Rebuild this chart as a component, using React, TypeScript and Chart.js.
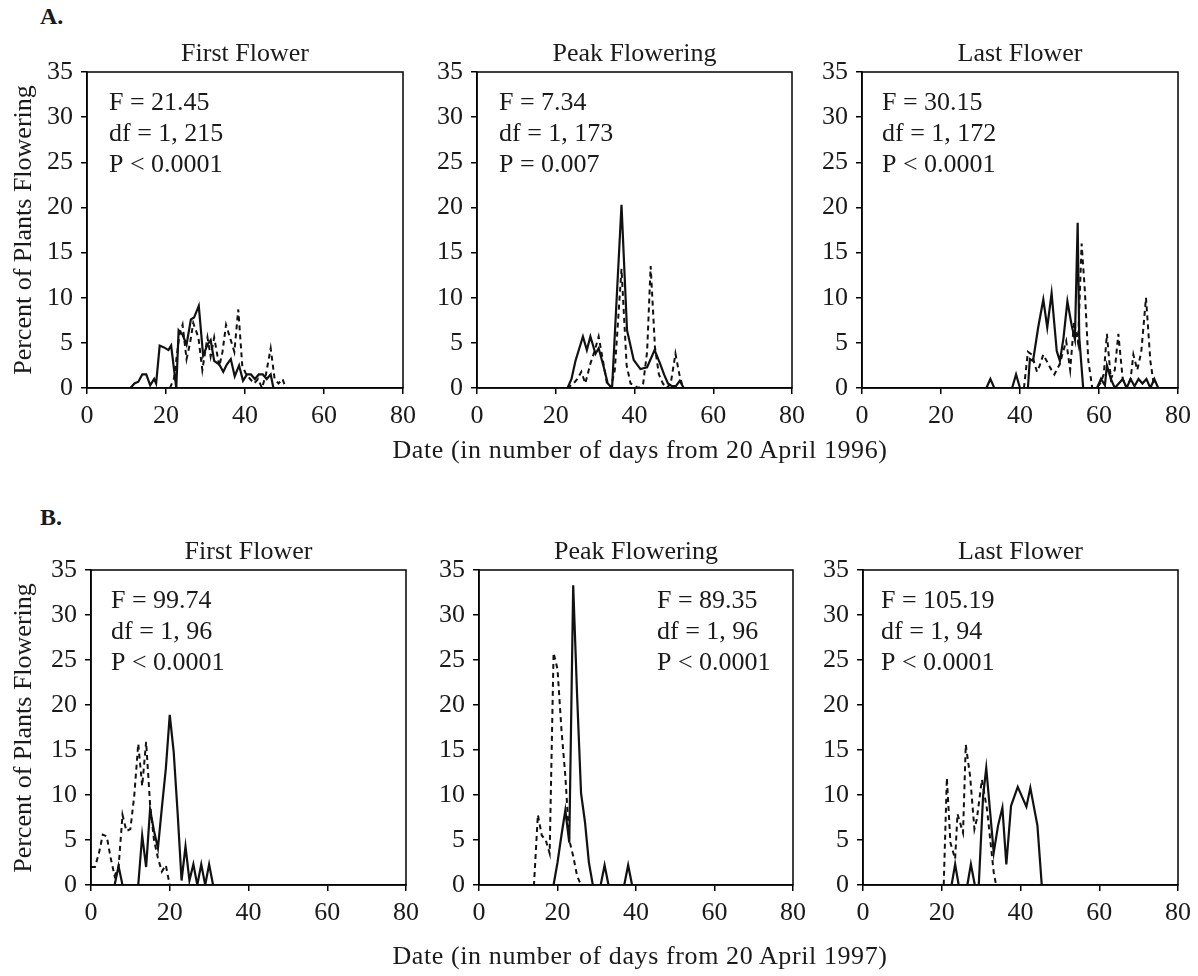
import { useEffect, useRef } from "react";
import { Chart, registerables } from "chart.js";
Chart.register(...registerables);

const FONT = "'Liberation Serif', 'DejaVu Serif', serif";
const TEXT = "#1a1a1a";

const X_TICKS = [0, 20, 40, 60, 80];
const Y_TICKS = [0, 5, 10, 15, 20, 25, 30, 35];

const TITLES = ["First Flower", "Peak Flowering", "Last Flower"];

// ---- 1996 (row A) ----
const a1SolidDays = [11, 12, 13, 14, 15, 16, 17, 17.5, 18.4, 19.5, 20.6, 21.3, 22.6, 23.2, 24.2, 25.2, 26.3, 27.1, 28.3, 29.4, 30.5, 31.3, 32.2, 33.5, 34.5, 35.4, 36.4, 37.4, 38.5, 39.5, 40.5, 41.5, 42.5, 43.5, 44.5, 45.5, 46.5, 47.2];
const a1SolidVals = [0, 0.5, 0.7, 1.5, 1.5, 0.3, 1.0, 0.5, 4.7, 4.5, 4.2, 4.7, 0, 6.4, 5.9, 4.8, 7.6, 7.8, 9.1, 3.6, 4.8, 5.3, 3.0, 2.6, 1.8, 2.6, 3.2, 1.3, 2.5, 0.8, 1.5, 1.5, 1.0, 1.5, 1.5, 1.0, 1.5, 0];
const a1DashDays = [21, 22, 23.4, 24.2, 25.2, 26.1, 26.9, 28.2, 29.2, 30.5, 31.3, 32.2, 33.5, 34.3, 35.2, 36.4, 37.3, 38.3, 39.3, 40.3, 41.3, 42.3, 43.3, 44.3, 45.3, 46.5, 47.5, 48.5, 49.5, 50.3];
const a1DashVals = [0, 1.0, 5.9, 7.0, 3.2, 5.0, 7.2, 5.6, 2.0, 5.6, 3.5, 5.6, 2.4, 4.0, 7.0, 5.3, 4.0, 8.7, 2.5, 1.5, 1.0, 0.5, 1.0, 0, 1.5, 4.4, 1.0, 0.5, 1.0, 0];
const a1Stats = ["F = 21.45", "df = 1, 215", "P < 0.0001"];

const a2SolidDays = [0, 23, 24, 25, 26.9, 27.9, 28.8, 30.1, 30.9, 32.2, 33.2, 34.3, 36.7, 38.1, 39.8, 41.5, 43.2, 45.1, 46.5, 47.5, 48.5, 49.5, 50.5, 51.5, 52.5];
const a2SolidVals = [0, 0, 1.0, 3.0, 5.7, 4.2, 5.7, 3.8, 4.4, 2.3, 0.5, 0, 20.3, 6.4, 3.1, 2.1, 2.3, 4.2, 2.7, 1.5, 0.5, 0.2, 0.2, 0.8, 0];
const a2DashDays = [0, 23, 24.5, 25.5, 26.5, 27.5, 28.8, 29.8, 30.9, 32.0, 33.0, 34.0, 35.0, 36.7, 38.0, 39.0, 41.0, 42.2, 43.2, 44.1, 45.2, 46.2, 47.2, 48.2, 49.2, 50.4, 51.4, 52.3];
const a2DashVals = [0, 0, 0.5, 1.0, 1.8, 0.5, 2.7, 4.0, 5.7, 3.0, 0.5, 0, 2.0, 13.2, 2.5, 0.5, 0, 0.5, 4.0, 13.5, 4.5, 1.5, 0.5, 0, 0.5, 3.8, 1.5, 0];
const a2Stats = ["F = 7.34", "df = 1, 173", "P = 0.007"];

const a3SolidDays = [30, 31.5, 32.5, 33.5, 38, 39, 40, 42, 42.5, 43.3, 44.6, 45.9, 46.9, 48.0, 49.3, 50.1, 51.0, 52.0, 53.1, 53.9, 54.6, 55.0, 56.0, 59.5, 60.5, 61.5, 62.0, 63.0, 64.0, 65.0, 66.0, 67.0, 68.0, 69.0, 70.0, 71.0, 72.0, 73.0, 74.0, 75.0];
const a3SolidVals = [0, 0, 1.0, 0, 0, 1.5, 0, 0, 3.2, 3.0, 6.7, 9.8, 6.7, 10.5, 4.1, 3.0, 5.5, 9.6, 6.9, 5.4, 18.3, 5.6, 0, 0, 1.0, 0.3, 2.5, 1.0, 0, 0.5, 1.0, 0, 1.0, 0.2, 1.0, 0.5, 1.0, 0, 1.0, 0];
const a3DashDays = [41, 42, 43, 44.3, 45.0, 45.9, 47.7, 48.7, 50.0, 51.7, 52.7, 53.7, 54.7, 55.6, 56.4, 57.3, 58.3, 59.3, 60.3, 61.2, 62.0, 63.0, 64.0, 64.9, 66.0, 67.0, 68.0, 68.7, 69.7, 70.7, 71.9, 73.0, 74.0];
const a3DashVals = [0, 4.0, 3.7, 1.8, 2.5, 3.7, 2.2, 1.5, 2.6, 5.2, 2.0, 7.4, 5.0, 16.0, 10.9, 3.0, 0, 0, 0.5, 1.5, 6.0, 1.0, 2.0, 6.0, 1.0, 0, 1.0, 3.7, 2.0, 4.0, 10.0, 3.0, 0];
const a3Stats = ["F = 30.15", "df = 1, 172", "P < 0.0001"];

// ---- 1997 (row B) ----
const b1SolidDays = [0, 6, 7, 8, 12, 13, 14, 15, 16, 17, 18, 19, 20, 21, 22, 23, 24, 25, 26, 27, 28, 29, 30, 31, 80];
const b1SolidVals = [0, 0, 2.1, 0, 0, 5.5, 2.0, 8.4, 6.0, 4.1, 8.6, 12.9, 18.9, 14.8, 8.0, 0.5, 4.3, 0.5, 2.3, 0, 2.3, 0, 2.3, 0, 0];
const b1DashDays = [0, 1, 2, 3, 4, 5, 6, 7, 8, 9, 10, 11, 12, 13, 14, 15, 16, 17, 18, 19, 20, 80];
const b1DashVals = [2.0, 2.0, 3.5, 5.6, 5.4, 3.0, 1.0, 2.0, 7.8, 6.0, 6.2, 10.0, 15.7, 11.0, 15.9, 9.0, 5.0, 3.0, 1.5, 2.2, 0, 0];
const b1Stats = ["F = 99.74", "df = 1, 96", "P < 0.0001"];

const b2SolidDays = [0, 19, 20, 21, 22, 23, 24, 25, 26, 27, 28, 29, 31, 32, 33, 37, 38, 39, 80];
const b2SolidVals = [0, 0, 2.5, 5.5, 8.3, 4.7, 33.3, 21.0, 10.2, 7.0, 2.5, 0, 0, 2.2, 0, 0, 2.2, 0, 0];
const b2DashDays = [0, 14, 15, 16, 17, 18, 19, 20, 21, 22, 23, 24, 25, 26, 44];
const b2DashVals = [0, 0, 7.8, 5.5, 5.0, 3.5, 25.8, 24.0, 17.3, 12.1, 5.0, 3.2, 1.0, 0, 0];
const b2Stats = ["F = 89.35", "df = 1, 96", "P < 0.0001"];

const b3SolidDays = [0, 22.5, 23.4, 24.3, 26.5, 27.4, 28.4, 29.4, 30.5, 31.3, 33.2, 34.3, 35.4, 36.4, 37.6, 39.3, 41.5, 42.5, 44.3, 45.4, 80];
const b3SolidVals = [0, 0, 2.3, 0, 0, 2.3, 0, 0, 9.9, 13.0, 3.6, 6.6, 8.6, 2.3, 8.8, 10.9, 8.7, 10.8, 6.6, 0, 0];
const b3DashDays = [0, 20.5, 21.3, 22.2, 23.4, 24.0, 25.4, 26.1, 27.2, 28.3, 28.9, 30.2, 31.5, 33.2, 33.8, 45];
const b3DashVals = [0, 0, 11.9, 4.7, 2.9, 7.9, 5.8, 15.6, 12.1, 6.2, 7.3, 11.7, 8.4, 1.4, 0, 0];
const b3Stats = ["F = 105.19", "df = 1, 94", "P < 0.0001"];

type Box = { left: number; top: number; w: number; h: number };

const PADL = 75, YAXW = 55, PADT = 50, PADR = 30, PADB = 60, XAXH = 48;

const framePlugin = {
  id: "frame",
  afterDraw(chart: any, _args: any, opts: any) {
    const { ctx, chartArea } = chart;
    const { left, top, right, bottom } = chartArea;
    ctx.save();
    ctx.strokeStyle = "#000";
    ctx.lineWidth = 1.5;
    ctx.strokeRect(left, top, right - left, bottom - top);
    ctx.fillStyle = TEXT;
    ctx.font = `26px ${FONT}`;
    ctx.textBaseline = "alphabetic";
    ctx.textAlign = "center";
    ctx.fillText(opts.title, (left + right) / 2, top - 11);
    ctx.textAlign = "left";
    (opts.stats as string[]).forEach((s, i) => ctx.fillText(s, left + opts.statsDx, top + 38 + i * 31));
    ctx.restore();
  },
};

function pts(days: number[], vals: number[]) {
  return days.map((d, i) => ({ x: d, y: vals[i] }));
}

function Panel(props: {
  box: Box; title: string; stats: string[]; statsDx: number;
  sd: number[]; sv: number[]; dd: number[]; dv: number[];
}) {
  const ref = useRef<HTMLCanvasElement>(null);
  const { box } = props;
  const cw = box.w + PADL + PADR;
  const ch = box.h + PADT + PADB;
  useEffect(() => {
    if (!ref.current) return;
    const tickFont = { family: FONT, size: 26 };
    const chart = new Chart(ref.current, {
      type: "line",
      data: {
        datasets: [
          { data: pts(props.dd, props.dv), borderColor: "#111", borderWidth: 2, borderDash: [5, 4], pointRadius: 0, tension: 0, fill: false },
          { data: pts(props.sd, props.sv), borderColor: "#111", borderWidth: 2.2, pointRadius: 0, tension: 0, fill: false },
        ],
      },
      options: {
        responsive: false,
        animation: false,
        devicePixelRatio: 1,
        layout: { padding: { left: PADL - YAXW, top: PADT, right: PADR, bottom: PADB - XAXH } },
        plugins: {
          legend: { display: false },
          tooltip: { enabled: false },
          frame: { title: props.title, stats: props.stats, statsDx: props.statsDx },
        } as any,
        scales: {
          x: {
            type: "linear", min: 0, max: 80,
            afterBuildTicks: (s: any) => { s.ticks = X_TICKS.map((v) => ({ value: v })); },
            ticks: { font: tickFont, color: TEXT, padding: 7, maxRotation: 0, autoSkip: false },
            grid: { drawOnChartArea: false, drawTicks: true, tickLength: 6, color: "#000", lineWidth: 1.5 },
            border: { display: true, color: "#000", width: 1.5 },
            afterFit: (s: any) => { s.height = XAXH; s.paddingLeft = 0; s.paddingRight = 0; },
          },
          y: {
            type: "linear", min: 0, max: 35,
            afterBuildTicks: (s: any) => { s.ticks = Y_TICKS.map((v) => ({ value: v })); },
            ticks: { font: tickFont, color: TEXT, padding: 8, autoSkip: false },
            grid: { drawOnChartArea: false, drawTicks: true, tickLength: 6, color: "#000", lineWidth: 1.5 },
            border: { display: true, color: "#000", width: 1.5 },
            afterFit: (s: any) => { s.width = YAXW; s.paddingTop = 0; s.paddingBottom = 0; },
          },
        },
      } as any,
      plugins: [framePlugin as any],
    });
    return () => chart.destroy();
  }, []);
  return (
    <canvas
      ref={ref}
      width={cw}
      height={ch}
      style={{ position: "absolute", left: box.left - PADL, top: box.top - PADT, width: cw, height: ch }}
    />
  );
}

const textBase: any = { position: "absolute", fontFamily: FONT, fontSize: 26, color: TEXT, whiteSpace: "nowrap", lineHeight: 1 };

export default function App() {
  const rowA = 72, rowB = 570, hA = 316, hB = 315;
  return (
    <div style={{ position: "absolute", left: 0, top: 0, width: 1198, height: 976, background: "#fff", overflow: "hidden" }}>
      <div style={{ ...textBase, left: 40, top: 4, fontWeight: "bold", fontSize: 24 }}>A.</div>
      <div style={{ ...textBase, left: 40, top: 505, fontWeight: "bold", fontSize: 24 }}>B.</div>

      <Panel box={{ left: 87, top: rowA, w: 316, h: hA }} title={TITLES[0]} stats={a1Stats} statsDx={22} sd={a1SolidDays} sv={a1SolidVals} dd={a1DashDays} dv={a1DashVals} />
      <Panel box={{ left: 477, top: rowA, w: 315, h: hA }} title={TITLES[1]} stats={a2Stats} statsDx={22} sd={a2SolidDays} sv={a2SolidVals} dd={a2DashDays} dv={a2DashVals} />
      <Panel box={{ left: 862, top: rowA, w: 316, h: hA }} title={TITLES[2]} stats={a3Stats} statsDx={20} sd={a3SolidDays} sv={a3SolidVals} dd={a3DashDays} dv={a3DashVals} />

      <Panel box={{ left: 91, top: rowB, w: 315, h: hB }} title={TITLES[0]} stats={b1Stats} statsDx={20} sd={b1SolidDays} sv={b1SolidVals} dd={b1DashDays} dv={b1DashVals} />
      <Panel box={{ left: 479, top: rowB, w: 314, h: hB }} title={TITLES[1]} stats={b2Stats} statsDx={178} sd={b2SolidDays} sv={b2SolidVals} dd={b2DashDays} dv={b2DashVals} />
      <Panel box={{ left: 863, top: rowB, w: 315, h: hB }} title={TITLES[2]} stats={b3Stats} statsDx={18} sd={b3SolidDays} sv={b3SolidVals} dd={b3DashDays} dv={b3DashVals} />

      <div style={{ ...textBase, left: 23, top: rowA + hA / 2, transform: "translate(-50%, -50%) rotate(-90deg)" }}>Percent of Plants Flowering</div>
      <div style={{ ...textBase, left: 23, top: rowB + hB / 2, transform: "translate(-50%, -50%) rotate(-90deg)" }}>Percent of Plants Flowering</div>

      <div style={{ ...textBase, left: 640, top: 450, letterSpacing: 0.6, transform: "translate(-50%, -50%)" }}>Date (in number of days from 20 April 1996)</div>
      <div style={{ ...textBase, left: 640, top: 956, letterSpacing: 0.6, transform: "translate(-50%, -50%)" }}>Date (in number of days from 20 April 1997)</div>
    </div>
  );
}
